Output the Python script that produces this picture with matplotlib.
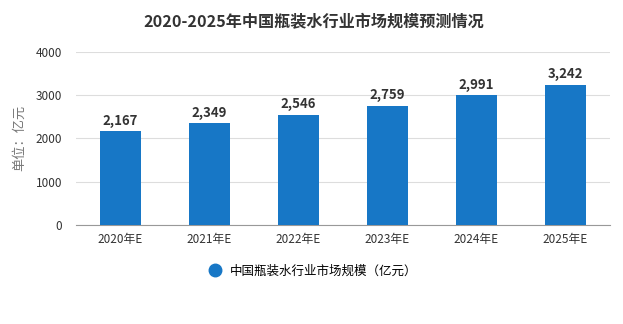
import matplotlib
matplotlib.use('Agg')
import matplotlib.pyplot as plt
from matplotlib.lines import Line2D

plt.rcParams['font.family'] = ['Noto Sans CJK SC', 'DejaVu Sans']

years = ['2020年E', '2021年E', '2022年E', '2023年E', '2024年E', '2025年E']
market_size = [2167, 2349, 2546, 2759, 2991, 3242]
y_ticks = [0, 1000, 2000, 3000, 4000]

bar_color = '#1777c6'

fig = plt.figure(figsize=(6.23, 3.24), dpi=100)
ax = fig.add_axes([0.122, 0.306, 0.857, 0.534])

bars = ax.bar(years, market_size, width=0.46, color=bar_color, zorder=3)
for b, v in zip(bars, market_size):
    ax.text(b.get_x() + b.get_width() / 2, v + 80, f'{v:,}', ha='center', va='bottom',
            fontsize=9.5, fontweight='bold', color='#333333')

ax.set_ylim(0, 4000)
ax.set_xlim(-0.5, len(years) - 0.5)
ax.set_yticks(y_ticks)
ax.yaxis.grid(True, color='#dddddd', linewidth=0.8, zorder=0)
for s in ['top', 'right', 'left']:
    ax.spines[s].set_visible(False)
ax.spines['bottom'].set_color('#999999')
ax.tick_params(axis='both', length=0, labelsize=8.5, colors='#333333')
ax.tick_params(axis='x', pad=6)
ax.tick_params(axis='y', pad=10)
ax.set_ylabel('单位：亿元', fontsize=9.5, color='#777777', labelpad=7)

fig.text(0.503, 0.932, '2020-2025年中国瓶装水行业市场规模预测情况', fontsize=11.6,
         fontweight='bold', color='#333333', ha='center', va='center')

handle = Line2D([], [], marker='o', linestyle='', markersize=9, color=bar_color)
fig.legend([handle], ['中国瓶装水行业市场规模（亿元）'], loc='center',
           bbox_to_anchor=(0.497, 0.164), frameon=False, fontsize=9,
           handletextpad=0.2)

fig.savefig('out.png', dpi=100)
